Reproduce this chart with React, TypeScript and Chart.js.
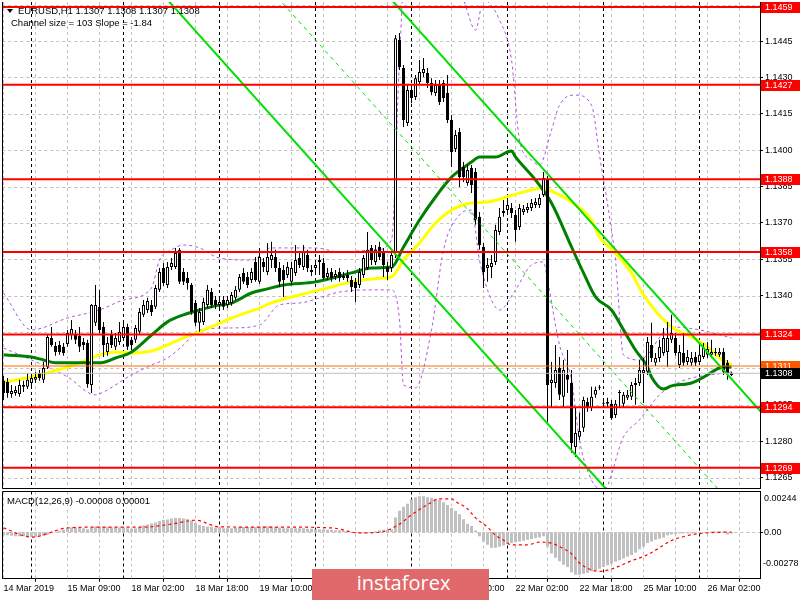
import React, { useEffect, useRef } from "react";
import { Chart, registerables } from "chart.js";

Chart.register(...registerables);

// ---------- price data (EURUSD H1) ----------
const opens = [
  1.13049, 1.13044, 1.12995, 1.12999, 1.12995, 1.13024, 1.13024, 1.1304, 1.13053, 1.13081,
  1.13053, 1.13106, 1.13226, 1.13193, 1.13197, 1.13189, 1.13201, 1.13238, 1.13238, 1.13234,
  1.13209, 1.13205, 1.13032, 1.13288, 1.13354, 1.13271, 1.13168, 1.13238, 1.13189, 1.13209,
  1.13226, 1.13271, 1.13218, 1.13218, 1.13251, 1.13321, 1.13341, 1.13362, 1.13354, 1.13424,
  1.13514, 1.13444, 1.13518, 1.13518, 1.13589, 1.13498, 1.13473, 1.13444, 1.1337, 1.13288,
  1.13292, 1.13362, 1.13415, 1.13382, 1.13362, 1.13382, 1.13362, 1.1337, 1.13391, 1.13424,
  1.13494, 1.13477, 1.13465, 1.13539, 1.13457, 1.13539, 1.13498, 1.13547, 1.1356, 1.13514,
  1.13506, 1.13485, 1.13457, 1.13494, 1.13555, 1.13518, 1.13568, 1.13506, 1.13514, 1.13539,
  1.13535, 1.13477, 1.13498, 1.13477, 1.13498, 1.13473, 1.13485, 1.13465, 1.13457, 1.13444,
  1.13485, 1.13514, 1.13597, 1.13539, 1.13601, 1.1358, 1.13518, 1.13514, 1.13576, 1.14454,
  1.14339, 1.14112, 1.14248, 1.14219, 1.14281, 1.14318, 1.14318, 1.14277, 1.14236, 1.14269,
  1.14277, 1.14236, 1.14124, 1.14005, 1.14075, 1.13931, 1.13865, 1.13927, 1.1391, 1.13725,
  1.13601, 1.13514, 1.13518, 1.13539, 1.13663, 1.13741, 1.13753, 1.13762, 1.13733, 1.13683,
  1.13745, 1.13753, 1.13762, 1.13774, 1.13774, 1.13815, 1.13877, 1.1304, 1.1304, 1.13102,
  1.12983, 1.13073, 1.1304, 1.12776, 1.12818, 1.12855, 1.12962, 1.12937, 1.12991, 1.1302,
  1.12958, 1.12954, 1.12954, 1.12908, 1.12999, 1.12954, 1.12979, 1.12983, 1.1304, 1.1304,
  1.13081, 1.13086, 1.13197, 1.13123, 1.13143, 1.13164, 1.13168, 1.13218, 1.13226, 1.13114,
  1.13164, 1.13127, 1.13123, 1.13147, 1.13127, 1.13147, 1.13156, 1.13156, 1.13164, 1.13156,
  1.13168, 1.13123, 1.13073,
];
const highs = [
  1.13069, 1.13061, 1.13032, 1.13028, 1.13053, 1.13049, 1.13081, 1.13073, 1.13086, 1.13094,
  1.13127, 1.13242, 1.13271, 1.13209, 1.13213, 1.13205, 1.13259, 1.133, 1.13259, 1.13271,
  1.13226, 1.13218, 1.13366, 1.13444, 1.13424, 1.13292, 1.1323, 1.13259, 1.13246, 1.13292,
  1.13292, 1.13284, 1.1323, 1.13279, 1.13349, 1.13382, 1.13391, 1.13382, 1.13444, 1.13514,
  1.13535, 1.13539, 1.13555, 1.13597, 1.13597, 1.13514, 1.13498, 1.13452, 1.13382, 1.13349,
  1.13391, 1.13444, 1.13432, 1.13399, 1.13391, 1.13399, 1.13399, 1.13415, 1.1344, 1.13489,
  1.13514, 1.13498, 1.13514, 1.1356, 1.13597, 1.13555, 1.13617, 1.13622, 1.13589, 1.13539,
  1.13527, 1.13539, 1.13539, 1.13609, 1.1358, 1.13609, 1.13589, 1.13527, 1.13547, 1.13568,
  1.13555, 1.13514, 1.13514, 1.13506, 1.13514, 1.13498, 1.13506, 1.13481, 1.13473, 1.13514,
  1.13568, 1.13663, 1.13609, 1.13609, 1.13622, 1.13597, 1.13539, 1.1358, 1.14475, 1.14483,
  1.14351, 1.14269, 1.14269, 1.1431, 1.14372, 1.1438, 1.14339, 1.14297, 1.14289, 1.14289,
  1.14289, 1.1431, 1.14145, 1.14083, 1.14091, 1.13951, 1.13939, 1.13939, 1.13927, 1.13745,
  1.13617, 1.13555, 1.13568, 1.13692, 1.13762, 1.13795, 1.13803, 1.13782, 1.13753, 1.13778,
  1.13774, 1.13782, 1.13799, 1.13803, 1.13819, 1.1391, 1.13894, 1.13127, 1.13197, 1.13147,
  1.13135, 1.13176, 1.13094, 1.12941, 1.12917, 1.12983, 1.12979, 1.13024, 1.13024, 1.13032,
  1.1297, 1.12979, 1.1297, 1.1297, 1.13011, 1.13003, 1.13011, 1.13044, 1.13061, 1.13135,
  1.13143, 1.1323, 1.13288, 1.13164, 1.13218, 1.13267, 1.13292, 1.13321, 1.13246, 1.13197,
  1.13246, 1.13176, 1.13168, 1.13168, 1.13205, 1.13205, 1.13209, 1.13218, 1.13184, 1.13184,
  1.13184, 1.13135, 1.13086,
];
const lows = [
  1.1297, 1.12979, 1.12979, 1.12987, 1.12983, 1.13003, 1.13015, 1.13028, 1.1304, 1.13049,
  1.1304, 1.13098, 1.13189, 1.13152, 1.13156, 1.13152, 1.13189, 1.13218, 1.13201, 1.13168,
  1.13176, 1.1302, 1.12999, 1.13275, 1.13246, 1.13147, 1.13152, 1.13184, 1.13176, 1.13197,
  1.13213, 1.13176, 1.13176, 1.13205, 1.13242, 1.13312, 1.13329, 1.13316, 1.13345, 1.13415,
  1.1344, 1.13432, 1.13506, 1.1351, 1.13448, 1.13444, 1.13424, 1.13321, 1.13275, 1.13251,
  1.13279, 1.13349, 1.13349, 1.13345, 1.13349, 1.13341, 1.13349, 1.13358, 1.13382, 1.13415,
  1.13448, 1.13432, 1.13452, 1.13457, 1.13448, 1.13498, 1.13485, 1.13514, 1.13498, 1.13436,
  1.13395, 1.13473, 1.13444, 1.13481, 1.13514, 1.13506, 1.13498, 1.13481, 1.13498, 1.13485,
  1.13465, 1.13465, 1.13457, 1.13465, 1.13457, 1.13465, 1.13457, 1.13415, 1.13374, 1.13432,
  1.13473, 1.13506, 1.13527, 1.13527, 1.13547, 1.13477, 1.13465, 1.13498, 1.13555, 1.14331,
  1.14096, 1.141, 1.14194, 1.14207, 1.14269, 1.14302, 1.14256, 1.14227, 1.14223, 1.14186,
  1.14199, 1.14112, 1.13931, 1.13992, 1.13848, 1.13869, 1.13853, 1.13823, 1.13692, 1.13589,
  1.13432, 1.13457, 1.13473, 1.13527, 1.1365, 1.13725, 1.13737, 1.1372, 1.13622, 1.13671,
  1.13733, 1.13741, 1.13749, 1.13762, 1.13762, 1.13807, 1.1288, 1.12937, 1.1302, 1.1297,
  1.12941, 1.12999, 1.12752, 1.12735, 1.12805, 1.12838, 1.12921, 1.12925, 1.12979, 1.13011,
  1.12946, 1.12937, 1.12888, 1.12896, 1.12941, 1.12941, 1.1297, 1.1297, 1.1295, 1.13028,
  1.12958, 1.13073, 1.13127, 1.1311, 1.13127, 1.13152, 1.13106, 1.13205, 1.13152, 1.13102,
  1.1311, 1.13114, 1.1311, 1.1311, 1.13119, 1.13139, 1.13143, 1.13143, 1.13152, 1.13147,
  1.13073, 1.13053, 1.13069,
];
const closes = [
  1.12999, 1.12999, 1.13007, 1.13011, 1.13032, 1.13032, 1.13053, 1.13061, 1.13065, 1.13061,
  1.13102, 1.1323, 1.13197, 1.13168, 1.13168, 1.13164, 1.13246, 1.13263, 1.13218, 1.13189,
  1.13197, 1.13036, 1.13362, 1.13362, 1.13259, 1.13197, 1.13205, 1.13197, 1.13226, 1.13251,
  1.13271, 1.13189, 1.13197, 1.13267, 1.13333, 1.13362, 1.13378, 1.13333, 1.13432, 1.13498,
  1.13452, 1.13518, 1.13535, 1.13576, 1.13457, 1.13457, 1.13452, 1.13333, 1.13288, 1.13333,
  1.13374, 1.13424, 1.13362, 1.13362, 1.13374, 1.13354, 1.13382, 1.13403, 1.13424, 1.13477,
  1.13457, 1.13444, 1.13498, 1.13465, 1.1356, 1.13518, 1.1356, 1.13568, 1.13514, 1.13457,
  1.13465, 1.13518, 1.13514, 1.13547, 1.13527, 1.1358, 1.13514, 1.13498, 1.13527, 1.13547,
  1.13473, 1.13494, 1.13473, 1.13489, 1.13473, 1.13481, 1.13473, 1.13436, 1.13432, 1.13498,
  1.13555, 1.13589, 1.13547, 1.13589, 1.1356, 1.13527, 1.13498, 1.13568, 1.14462, 1.14343,
  1.14124, 1.14248, 1.14215, 1.14297, 1.14322, 1.14335, 1.14277, 1.1424, 1.14269, 1.14199,
  1.14215, 1.14124, 1.13992, 1.14063, 1.13889, 1.13889, 1.13918, 1.13856, 1.13712, 1.13609,
  1.13498, 1.13527, 1.13535, 1.13671, 1.13725, 1.13749, 1.13774, 1.13741, 1.13671, 1.13762,
  1.13758, 1.13766, 1.13782, 1.13786, 1.13803, 1.13885, 1.13032, 1.13053, 1.13094, 1.12991,
  1.13094, 1.13053, 1.12793, 1.12834, 1.12842, 1.1297, 1.12937, 1.12983, 1.13011, 1.13024,
  1.12954, 1.12962, 1.12896, 1.12954, 1.13003, 1.12991, 1.12991, 1.13032, 1.13032, 1.13094,
  1.13094, 1.13209, 1.13143, 1.13143, 1.13189, 1.13226, 1.13226, 1.13246, 1.13164, 1.13168,
  1.13123, 1.13147, 1.13143, 1.13123, 1.13156, 1.13184, 1.1318, 1.13168, 1.13168, 1.13168,
  1.13086, 1.13081, 1.13081,
];

// ---------- moving averages ----------
const greenMaIdx = [0, 4, 7, 10, 13, 19, 24, 28, 32, 37, 41, 45, 49, 53, 57, 62, 66, 70, 78, 87, 92, 97, 100, 104, 108, 112, 117, 119, 123, 127, 128, 133, 137, 142, 145, 148, 152, 155, 158, 161, 162, 165, 167, 172, 176, 179, 182];
const greenMaVal = [1.13156, 1.13152, 1.13147, 1.13135, 1.13123, 1.13123, 1.13123, 1.13143, 1.13168, 1.13238, 1.13292, 1.13321, 1.13341, 1.13358, 1.1337, 1.13411, 1.13428, 1.13444, 1.13457, 1.13494, 1.13514, 1.13518, 1.13601, 1.13712, 1.13807, 1.13889, 1.13951, 1.13972, 1.13972, 1.13997, 1.13972, 1.13877, 1.13782, 1.13601, 1.13494, 1.13395, 1.13341, 1.13259, 1.13176, 1.13106, 1.13065, 1.13015, 1.13028, 1.1304, 1.13073, 1.13102, 1.13106];
const yellowMaIdx = [0, 7, 16, 21, 24, 28, 32, 37, 41, 45, 49, 53, 57, 64, 67, 74, 82, 87, 95, 97, 100, 104, 108, 112, 117, 121, 125, 129, 135, 138, 142, 147, 149, 153, 157, 160, 167, 172, 176, 179, 182];
const yellowMaVal = [1.13044, 1.13065, 1.13106, 1.13135, 1.13156, 1.13168, 1.13164, 1.13172, 1.13197, 1.13226, 1.13251, 1.13279, 1.13308, 1.13349, 1.1337, 1.13403, 1.13436, 1.13457, 1.13473, 1.13477, 1.13547, 1.13617, 1.137, 1.13753, 1.13782, 1.13786, 1.13803, 1.13823, 1.13844, 1.13823, 1.13786, 1.13712, 1.13642, 1.13576, 1.13494, 1.13403, 1.13271, 1.1323, 1.13189, 1.13143, 1.13114];

// ---------- Bollinger bands ----------
const bbUpIdx = [0, 7, 16, 24, 30, 37, 39, 42, 45, 49, 54, 62, 67, 78, 84, 93, 97, 99, 100, 109, 115, 118, 120, 124, 127, 129, 132, 134, 137, 139, 143, 147, 149, 152, 153, 155, 159, 167, 174, 182];
const bbUpVal = [1.13411, 1.13259, 1.13308, 1.13341, 1.13382, 1.13432, 1.13547, 1.13589, 1.13609, 1.13597, 1.13555, 1.13547, 1.13597, 1.13597, 1.1358, 1.13589, 1.1363, 1.14372, 1.1466, 1.14784, 1.14619, 1.14495, 1.14619, 1.14537, 1.14372, 1.14042, 1.13959, 1.13939, 1.14083, 1.14186, 1.14227, 1.14186, 1.1398, 1.13671, 1.13547, 1.13156, 1.13135, 1.13271, 1.13259, 1.13226];
const bbLoIdx = [0, 7, 16, 23, 25, 32, 37, 41, 45, 49, 57, 64, 69, 74, 84, 92, 97, 99, 100, 103, 107, 110, 114, 117, 119, 122, 124, 128, 132, 135, 136, 139, 142, 144, 147, 150, 155, 159, 164, 169, 182];
const bbLoVal = [1.13184, 1.13135, 1.13065, 1.12991, 1.13003, 1.13073, 1.13114, 1.13143, 1.13197, 1.13259, 1.13267, 1.13279, 1.13362, 1.1337, 1.13415, 1.13424, 1.13424, 1.133, 1.13032, 1.1302, 1.13259, 1.13589, 1.13733, 1.13753, 1.13547, 1.13382, 1.13341, 1.13424, 1.13527, 1.13539, 1.13465, 1.13197, 1.13053, 1.12805, 1.1264, 1.12599, 1.12818, 1.12888, 1.12991, 1.13044, 1.13086];

// ---------- regression channel (size 103, slope -1.84) ----------
const channelIdx = [-1, 190];
const channelUpper = [1.16423, 1.12909];
const channelMiddle = [1.15908, 1.12394];
const channelLower = [1.15393, 1.11879];

// ---------- horizontal levels ----------
const redLevels = [1.1459, 1.1427, 1.1388, 1.1358, 1.1324, 1.1294, 1.1269];
const orangeLevel = 1.1311;
const bidLevel = 1.1308;
const priceTicks = [1.1265, 1.128, 1.1295, 1.131, 1.1325, 1.134, 1.1355, 1.137, 1.1385, 1.14, 1.1415, 1.143, 1.1445, 1.146];

// ---------- MACD(12,26,9) ----------
const macdHist = [
  -0.00015, -0.00018, -0.00021, -0.00024, -0.00024, -0.00024, -0.00028, -0.00028, -0.00028, -0.00024,
  -0.00021, -0.00015, -0.00006, 0.00003, 0.00009, 0.00015, 0.00024, 0.00028, 0.00028, 0.00028,
  0.00024, 0.00018, 0.00028, 0.00034, 0.00034, 0.00031, 0.00031, 0.00028, 0.00028, 0.00028,
  0.00028, 0.00024, 0.00021, 0.00024, 0.00031, 0.0004, 0.00046, 0.00052, 0.00058, 0.00067,
  0.00073, 0.00077, 0.00083, 0.00086, 0.00086, 0.00083, 0.0008, 0.0007, 0.00055, 0.00043,
  0.00037, 0.00034, 0.00031, 0.00028, 0.00028, 0.00024, 0.00024, 0.00024, 0.00028, 0.00031,
  0.00031, 0.00031, 0.00031, 0.00031, 0.00034, 0.00034, 0.00034, 0.00034, 0.00031, 0.00028,
  0.00024, 0.00024, 0.00024, 0.00024, 0.00024, 0.00024, 0.00021, 0.00021, 0.00018, 0.00018,
  0.00018, 0.00015, 0.00015, 0.00012, 0.00012, 0.00009, 0.00006, 0.00003, -0.00003, -0.00006,
  -0.00006, -0.00003, 0.0, 0.00006, 0.00012, 0.00015, 0.00015, 0.00018, 0.00088, 0.00129,
  0.00153, 0.00171, 0.00196, 0.0021, 0.00216, 0.00216, 0.0021, 0.00206, 0.002, 0.00194,
  0.00179, 0.00163, 0.00145, 0.00129, 0.00108, 0.00078, 0.00051, 0.00037, 0.0001, -0.00024,
  -0.00055, -0.00075, -0.00092, -0.00092, -0.00086, -0.0008, -0.00072, -0.00065, -0.00059, -0.00055,
  -0.00051, -0.00045, -0.00041, -0.00035, -0.00031, -0.00024, -0.00086, -0.00127, -0.00153, -0.00173,
  -0.00194, -0.00208, -0.00239, -0.00255, -0.00255, -0.00249, -0.00243, -0.00234, -0.00228, -0.00218,
  -0.00208, -0.00198, -0.00188, -0.00177, -0.00167, -0.00157, -0.00147, -0.00136, -0.00122, -0.00102,
  -0.00086, -0.00065, -0.00055, -0.00045, -0.00039, -0.00031, -0.00018, -0.00014, -0.0001, -0.00008,
  -0.00008, -0.00008, -0.00008, -0.00004, -0.00004, -0.00004, -0.00004, 0.00004, 0.00004, 0.00004,
  0.00004, -0.00014, -0.00008,
];
const signalIdx = [0, 7, 16, 24, 35, 42, 48, 54, 69, 82, 89, 94, 99, 102, 106, 109, 112, 113, 116, 118, 121, 123, 125, 127, 131, 134, 137, 139, 142, 144, 147, 149, 152, 154, 157, 161, 164, 167, 171, 174, 177, 182];
const signalVal = [0.00026, -0.00029, 0.00026, 0.00031, 0.00031, 0.00049, 0.00072, 0.00032, 0.00031, 0.00026, -0.00004, 0.0, 0.00049, 0.00104, 0.00165, 0.002, 0.002, 0.00184, 0.00141, 0.00086, 0.00031, -0.00018, -0.00047, -0.00075, -0.00075, -0.00059, -0.00065, -0.00086, -0.00129, -0.00184, -0.00226, -0.00234, -0.0022, -0.00202, -0.00171, -0.00135, -0.00092, -0.00049, -0.0002, -0.00008, -0.00002, 0.00001];
const macdAxisValues = [0.00244, 0, -0.00278];
const macdAxisText = ["0.00244", "0.00", "-0.00278"];

// ---------- time axis ----------
const timeLabelIdx = [0, 16, 32, 48, 64, 80, 96, 112, 128, 144, 160, 176];
const timeLabelText = ["14 Mar 2019", "15 Mar 09:00", "18 Mar 02:00", "18 Mar 18:00", "19 Mar 10:00", "20 Mar 02:00", "20 Mar 18:00", "21 Mar 10:00", "22 Mar 02:00", "22 Mar 18:00", "25 Mar 10:00", "26 Mar 02:00"];
const dayBreakIdx = [7, 30, 54, 78, 102, 126, 150, 174];

// ---------- layout constants ----------
const W = 800;
const X_MIN = -0.3;
const X_MAX = 189.125;
const MAIN_MIN = 1.12607;
const MAIN_MAX = 1.14611;
const MACD_MIN = -0.00278;
const MACD_MAX = 0.00244;
const GRID_STEP = 8;
const FONT = '"Liberation Sans", Arial, sans-serif';

const pts = (idx: number[], val: number[]) => idx.map((x, k) => ({ x, y: val[k] }));

function makeGrid(hValues: number[]) {
  return {
    id: "mtGrid",
    beforeDatasetsDraw(chart: any) {
      const { ctx, chartArea: a, scales } = chart;
      ctx.save();
      ctx.beginPath();
      ctx.rect(a.left, a.top, a.right - a.left, a.bottom - a.top);
      ctx.clip();
      ctx.lineWidth = 1;
      ctx.setLineDash([3, 3]);
      ctx.strokeStyle = "#c0c0c0";
      ctx.beginPath();
      for (const v of hValues) {
        const y = Math.round(scales.y.getPixelForValue(v)) + 0.5;
        ctx.moveTo(a.left, y);
        ctx.lineTo(a.right, y);
      }
      for (let k = 0; k <= X_MAX; k += GRID_STEP) {
        const x = scales.x.getPixelForValue(k);
        ctx.moveTo(x, a.top);
        ctx.lineTo(x, a.bottom);
      }
      ctx.stroke();
      ctx.strokeStyle = "#000000";
      ctx.beginPath();
      for (const d of dayBreakIdx) {
        const x = scales.x.getPixelForValue(d);
        ctx.moveTo(x, a.top);
        ctx.lineTo(x, a.bottom);
      }
      ctx.stroke();
      ctx.restore();
    },
  };
}

const whiteBg = {
  id: "whiteBg",
  beforeDraw(chart: any) {
    const { ctx, width, height } = chart;
    ctx.save();
    ctx.fillStyle = "#ffffff";
    ctx.fillRect(0, 0, width, height);
    ctx.restore();
  },
};

const priceBoxes = {
  id: "priceBoxes",
  afterDraw(chart: any) {
    const { ctx, chartArea: a, scales } = chart;
    ctx.save();
    ctx.strokeStyle = "#000";
    ctx.lineWidth = 1;
    ctx.setLineDash([]);
    ctx.beginPath();
    ctx.moveTo(2.5, a.top);
    ctx.lineTo(2.5, a.bottom + 0.5);
    ctx.moveTo(a.left, Math.floor(a.bottom) + 0.5);
    ctx.lineTo(a.right, Math.floor(a.bottom) + 0.5);
    ctx.stroke();
    ctx.font = `9px ${FONT}`;
    ctx.textBaseline = "middle";
    ctx.textAlign = "left";
    const box = (v: number, bg: string) => {
      const y = Math.round(scales.y.getPixelForValue(v));
      ctx.fillStyle = bg;
      ctx.fillRect(a.right + 1, y - 5, W - a.right - 1, 11);
      ctx.fillStyle = "#ffffff";
      ctx.fillText(v.toFixed(4), a.right + 5, y + 0.5);
    };
    redLevels.forEach((v) => box(v, "#ff0000"));
    box(orangeLevel, "#ff5a00");
    box(bidLevel, "#000000");
    ctx.restore();
  },
};

const macdDecor = {
  id: "macdDecor",
  afterDraw(chart: any) {
    const { ctx, chartArea: a, scales } = chart;
    ctx.save();
    ctx.strokeStyle = "#000";
    ctx.lineWidth = 1;
    ctx.beginPath();
    ctx.moveTo(2.5, Math.floor(a.top) + 0.5);
    ctx.lineTo(2.5, a.bottom);
    ctx.moveTo(2.5, Math.floor(a.top) + 0.5);
    ctx.lineTo(a.right, Math.floor(a.top) + 0.5);
    const y0 = Math.round(scales.y.getPixelForValue(0)) + 0.5;
    ctx.moveTo(a.right, y0);
    ctx.lineTo(a.right + 3, y0);
    ctx.stroke();
    ctx.font = `9px ${FONT}`;
    ctx.fillStyle = "#000";
    ctx.textBaseline = "middle";
    ctx.textAlign = "left";
    const shifts = [7, 0, -15];
    macdAxisValues.forEach((v, k) => {
      const y = scales.y.getPixelForValue(v) + shifts[k];
      ctx.fillText(macdAxisText[k], a.right + (v < 0 ? 3 : 4), y);
    });
    ctx.restore();
  },
};

export default function App() {
  const mainRef = useRef<HTMLCanvasElement>(null);
  const macdRef = useRef<HTMLCanvasElement>(null);

  useEffect(() => {
    const barIdx = closes.map((_, i) => i);
    const bodies = barIdx.map((i) => ({ x: i, y: [Math.min(opens[i], closes[i]), Math.max(opens[i], closes[i])] }));
    const wicks = barIdx.map((i) => ({ x: i, y: [lows[i], highs[i]] }));
    const bodyColors = barIdx.map((i) => (closes[i] >= opens[i] ? "#ffffff" : "#000000"));
    const flat = (v: number) => [{ x: X_MIN, y: v }, { x: X_MAX, y: v }];
    const lineBase = { type: "line", pointRadius: 0, borderCapStyle: "butt", fill: false };

    const mainChart = new Chart(mainRef.current as HTMLCanvasElement, {
      type: "bar",
      data: {
        datasets: [
          ...redLevels.map((v) => ({ ...lineBase, data: flat(v), borderColor: "#ff0000", borderWidth: 2, order: 0 })),
          { ...lineBase, data: flat(orangeLevel), borderColor: "#ff6a00", borderWidth: 1, order: 0 },
          { ...lineBase, data: flat(bidLevel), borderColor: "#c0c0c0", borderWidth: 1, order: 0 },
          { ...lineBase, data: pts(channelIdx, channelUpper), borderColor: "#00e000", borderWidth: 2, order: 1 },
          { ...lineBase, data: pts(channelIdx, channelLower), borderColor: "#00e000", borderWidth: 2, order: 1 },
          { ...lineBase, data: pts(channelIdx, channelMiddle), borderColor: "#00e000", borderWidth: 1, borderDash: [4, 4], order: 1 },
          {
            type: "bar", data: bodies, backgroundColor: bodyColors, borderColor: "#000000", borderWidth: 1,
            borderSkipped: false, barThickness: 3, grouped: false, minBarLength: 1, inflateAmount: 0, order: 2,
          },
          {
            type: "bar", data: wicks, backgroundColor: "#000000", borderWidth: 0,
            barThickness: 1, grouped: false, minBarLength: 1, inflateAmount: 0, order: 3,
          },
          { ...lineBase, data: pts(greenMaIdx, greenMaVal), borderColor: "#008000", borderWidth: 3, cubicInterpolationMode: "monotone", order: 4 },
          { ...lineBase, data: pts(yellowMaIdx, yellowMaVal), borderColor: "#ffff00", borderWidth: 3, cubicInterpolationMode: "monotone", order: 5 },
          { ...lineBase, data: pts(bbUpIdx, bbUpVal), borderColor: "#b055e0", borderWidth: 1, borderDash: [3, 3], cubicInterpolationMode: "monotone", order: 6 },
          { ...lineBase, data: pts(bbLoIdx, bbLoVal), borderColor: "#b055e0", borderWidth: 1, borderDash: [3, 3], cubicInterpolationMode: "monotone", order: 6 },
        ],
      } as any,
      options: {
        responsive: false,
        animation: false,
        events: [],
        layout: { padding: { left: 2.3, top: 2, right: 0, bottom: 112 } },
        plugins: { legend: { display: false }, tooltip: { enabled: false } },
        scales: {
          x: { type: "linear", min: X_MIN, max: X_MAX, display: false, offset: false },
          y: {
            type: "linear",
            position: "right",
            min: MAIN_MIN,
            max: MAIN_MAX,
            afterFit: (s: any) => { s.width = 40; s.paddingTop = 0; s.paddingBottom = 0; },
            afterBuildTicks: (s: any) => { s.ticks = priceTicks.map((v) => ({ value: v })); },
            ticks: {
              callback: (v: any) => (Number(v) >= 1.1459 ? "" : Number(v).toFixed(4)),
              font: { family: FONT, size: 9 },
              color: "#000000",
              padding: 2,
              autoSkip: false,
            },
            grid: { drawOnChartArea: false, drawTicks: true, tickLength: 3, tickColor: "#000000" },
            border: { display: true, color: "#000000" },
          },
        },
      } as any,
      plugins: [whiteBg, makeGrid(priceTicks), priceBoxes],
    });

    const macdChart = new Chart(macdRef.current as HTMLCanvasElement, {
      type: "bar",
      data: {
        datasets: [
          { ...lineBase, data: pts(signalIdx, signalVal), borderColor: "#ff0000", borderWidth: 1.2, borderDash: [3, 3], cubicInterpolationMode: "monotone", order: 0 },
          {
            type: "bar", data: barIdx.map((i) => ({ x: i, y: macdHist[i] })), backgroundColor: "#c0c0c0",
            borderWidth: 0, barThickness: 3, grouped: false, inflateAmount: 0, order: 1,
          },
        ],
      } as any,
      options: {
        responsive: false,
        animation: false,
        events: [],
        layout: { padding: { left: 2.3, top: 491.5, right: 0, bottom: 0 } },
        plugins: { legend: { display: false }, tooltip: { enabled: false } },
        scales: {
          x: {
            type: "linear",
            position: "bottom",
            min: X_MIN,
            max: X_MAX,
            offset: false,
            afterFit: (s: any) => { s.height = 21.3; s.paddingLeft = 0; s.paddingRight = 0; },
            afterBuildTicks: (s: any) => { s.ticks = timeLabelIdx.map((v) => ({ value: v })); },
            ticks: {
              callback: (v: any) => timeLabelText[timeLabelIdx.indexOf(Number(v))] ?? "",
              align: "start",
              maxRotation: 0,
              minRotation: 0,
              autoSkip: false,
              font: { family: FONT, size: 9 },
              color: "#000000",
              padding: 1,
            },
            grid: { drawOnChartArea: false, drawTicks: true, tickLength: 3, tickColor: "#000000" },
            border: { display: true, color: "#000000" },
          },
          y: {
            type: "linear",
            position: "right",
            min: MACD_MIN,
            max: MACD_MAX,
            afterFit: (s: any) => { s.width = 40; s.paddingTop = 0; s.paddingBottom = 0; },
            ticks: { display: false },
            grid: { display: false },
            border: { display: true, color: "#000000" },
          },
        },
      } as any,
      plugins: [makeGrid([0]), macdDecor],
    });

    return () => {
      mainChart.destroy();
      macdChart.destroy();
    };
  }, []);

  const textStyle: any = {
    position: "absolute",
    font: `9.5px ${FONT}`,
    color: "#000",
    whiteSpace: "pre",
    lineHeight: "12px",
  };

  return (
    <div style={{ position: "fixed", left: 0, top: 0, width: 800, height: 600, overflow: "hidden", background: "#fff" }}>
      <canvas ref={mainRef} width={800} height={600} style={{ position: "absolute", left: 0, top: 0 }} />
      <canvas ref={macdRef} width={800} height={600} style={{ position: "absolute", left: 0, top: 0 }} />
      <div style={{ position: "absolute", left: 7, top: 9, width: 0, height: 0, borderLeft: "3px solid transparent", borderRight: "3px solid transparent", borderTop: "4px solid #000" }} />
      <div style={{ ...textStyle, left: 18, top: 5 }}>EURUSD,H1 1.1307 1.1308 1.1307 1.1308</div>
      <div style={{ ...textStyle, left: 11, top: 17 }}>Channel size = 103 Slope = -1.84</div>
      <div style={{ ...textStyle, left: 7, top: 495 }}>MACD(12,26,9) -0.00008 0.00001</div>
      <div
        style={{
          position: "absolute", left: 312, top: 569, width: 177, height: 31, background: "#e2696b",
          color: "#fff", font: '400 20px "Open Sans", sans-serif', lineHeight: "27px", textAlign: "center", paddingLeft: 6, boxSizing: "border-box",
        }}
      >
        instaforex
      </div>
    </div>
  );
}
